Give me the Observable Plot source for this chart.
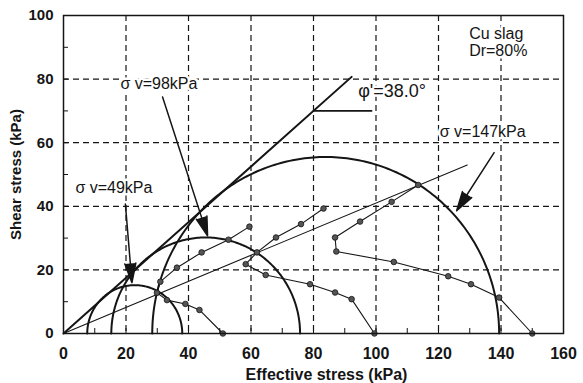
<!DOCTYPE html>
<html>
<head>
<meta charset="utf-8">
<script src="https://cdn.jsdelivr.net/npm/d3@7"></script>
<script src="https://cdn.jsdelivr.net/npm/@observablehq/plot@0.6"></script>
<style>
  body { margin: 0; background: #fff; }
  #chart svg { display: block; }
</style>
</head>
<body>
<div id="chart"></div>
<script>
// Axis ticks (kPa)
const xTicks = [0, 20, 40, 60, 80, 100, 120, 140, 160];
const yTicks = [0, 20, 40, 60, 80, 100];
const xMinorTicks = [0, 10, 20, 30, 40, 50, 60, 70, 80, 90, 100, 110, 120, 130, 140, 150, 160];
const yMinorTicks = [0, 10, 20, 30, 40, 50, 60, 70, 80, 90, 100];
const xTitle = ["Effective stress (kPa)"];
const yTitle = "Shear stress (kPa)";

// Mohr circles at failure for the three vertical stresses
const circleNames = ["49", "98", "147"];
const circleCenters = [22.8, 45.5, 83.9];
const circleRadii = [15.2, 30.2, 55.5];

// Effective stress paths (σ', τ) for each test
const path49 = [[51, 0], [43.5, 7.4], [39, 9.3], [33.1, 10.5], [29.9, 12.8], [31, 16.3], [36.3, 20.7], [44.2, 25.5], [52.8, 29.5], [59.5, 33.6]];
const path98 = [[99.5, 0], [92.2, 10.8], [86.9, 12.9], [78.9, 15.5], [64.7, 18.4], [58.3, 21.8], [61.9, 25.5], [68, 30.2], [76, 34.4], [83.2, 39.3]];
const path147 = [[150, 0], [139.4, 11.3], [130.4, 15.5], [123.1, 18], [105.7, 22.5], [87.3, 25.8], [86.9, 30.2], [94.9, 35.2], [105, 41.4], [113.5, 46.7]];

// Failure envelope, angle marker and phase transformation line
const envelope = [[0, 0], [92.2, 80.7]];
const angleMarker = [[80, 70], [98.6, 70]];
const transformLine = [[0, 0], [129.2, 53]];

// Annotation arrows: label end -> circle
const arrowStart = [[19.8, 40.7], [31.7, 74.4], [137.8, 56.9]];
const arrowTip = [[21.9, 16.0], [46.1, 30.7], [125.8, 38.6]];

// Text annotations
const stressLabels = ["σ v=49kPa", "σ v=98kPa", "σ v=147kPa"];
const stressLabelX = [3.8, 18.2, 120.4];
const stressLabelY = [45.9, 78.5, 63.4];
const angleLabel = ["φ'=38.0°"];
const angleLabelX = [94.3];
const angleLabelY = [76.3];
const materialLabels = ["Cu slag", "Dr=80%"];
const materialLabelX = [129.8, 129.8];
const materialLabelY = [94.1, 88.9];

// Build semicircle outlines from center and radius
const arcs = circleCenters.flatMap((c, k) =>
  d3.range(0, 181, 1).map(a => {
    const t = a * Math.PI / 180;
    return {id: circleNames[k], x: c + circleRadii[k] * Math.cos(t), y: circleRadii[k] * Math.sin(t)};
  })
);

const paths = [["49", path49], ["98", path98], ["147", path147]]
  .flatMap(([id, pts]) => pts.map(([x, y]) => ({id, x, y})));

const arrows = arrowStart.map((s, i) => ({x1: s[0], y1: s[1], x2: arrowTip[i][0], y2: arrowTip[i][1]}));
const toRows = (texts, xs, ys) => texts.map((t, i) => ({text: t, x: xs[i], y: ys[i]}));

const ink = "#151515";
const textStyle = {x: "x", y: "y", text: "text", textAnchor: "start", lineAnchor: "middle",
  fill: ink, stroke: "#fff", strokeWidth: 5};

const chart = Plot.plot({
  width: 583,
  height: 383,
  marginLeft: 63,
  marginRight: 20,
  marginTop: 15,
  marginBottom: 50,
  style: {fontFamily: "'Liberation Sans', Arial, sans-serif", color: ink, background: "#fff"},
  x: {domain: [0, 160]},
  y: {domain: [0, 100]},
  marks: [
    Plot.gridX(xTicks.slice(1, -1), {stroke: ink, strokeOpacity: 1, strokeWidth: 1.2, strokeDasharray: "6,4"}),
    Plot.gridY(yTicks.slice(1, -1), {stroke: ink, strokeOpacity: 1, strokeWidth: 1.2, strokeDasharray: "6,4"}),
    Plot.axisX(xMinorTicks, {tickSize: -5, tickFormat: () => "", label: null}),
    Plot.axisY(yMinorTicks, {tickSize: -5, tickFormat: () => "", label: null}),
    Plot.axisX(xTicks, {tickSize: 0, tickPadding: 14, fontSize: 16, fontWeight: "bold", label: null}),
    Plot.text(xTitle, {frameAnchor: "bottom", dx: 13, dy: 41, lineAnchor: "middle",
      fontSize: 16, fontWeight: "bold", fill: ink}),
    Plot.axisY(yTicks, {tickSize: 0, tickPadding: 10, fontSize: 15, fontWeight: "bold",
      label: yTitle, labelAnchor: "center", labelOffset: 53, labelArrow: "none"}),
    Plot.text(toRows(stressLabels, stressLabelX, stressLabelY), {...textStyle, fontSize: 16}),
    Plot.text(toRows(angleLabel, angleLabelX, angleLabelY), {...textStyle, fontSize: 18}),
    Plot.text(toRows(materialLabels, materialLabelX, materialLabelY), {...textStyle, fontSize: 16}),
    Plot.line(arcs, {x: "x", y: "y", z: "id", stroke: ink, strokeWidth: 2}),
    Plot.line(envelope, {x: d => d[0], y: d => d[1], stroke: ink, strokeWidth: 2}),
    Plot.line(angleMarker, {x: d => d[0], y: d => d[1], stroke: ink, strokeWidth: 1.6}),
    Plot.line(transformLine, {x: d => d[0], y: d => d[1], stroke: ink, strokeWidth: 1.1}),
    Plot.line(paths, {x: "x", y: "y", z: "id", stroke: ink, strokeWidth: 1.1}),
    Plot.dot(paths, {x: "x", y: "y", r: 2.8, fill: "#555", stroke: ink, strokeWidth: 0.8}),
    Plot.arrow(arrows, {x1: "x1", y1: "y1", x2: "x2", y2: "y2", stroke: ink, fill: ink,
      strokeWidth: 1.5, headLength: 20, headAngle: 32}),
    Plot.frame({stroke: ink, strokeWidth: 1.5})
  ]
});

document.getElementById("chart").appendChild(chart);
</script>
</body>
</html>
